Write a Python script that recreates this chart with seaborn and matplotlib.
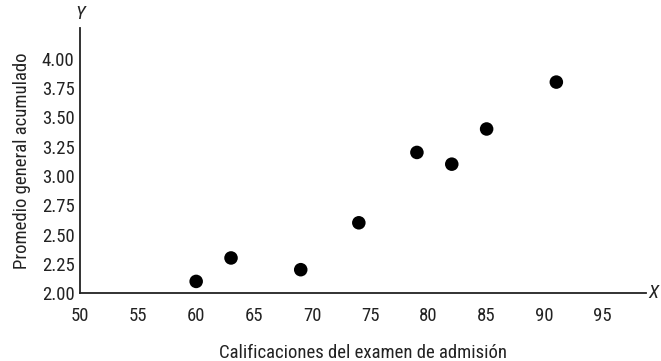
import matplotlib
matplotlib.use("Agg")
import matplotlib.pyplot as plt
import seaborn as sns
import pandas as pd
from matplotlib import font_manager

calificaciones = [60, 63, 69, 74, 79, 82, 85, 91]
promedio = [2.1, 2.3, 2.2, 2.6, 3.2, 3.1, 3.4, 3.8]
x_ticks = [50, 55, 60, 65, 70, 75, 80, 85, 90, 95]
y_ticks = [2.00, 2.25, 2.50, 2.75, 3.00, 3.25, 3.50, 3.75, 4.00]
y_tick_labels = ["2.00", "2.25", "2.50", "2.75", "3.00", "3.25", "3.50", "3.75", "4.00"]

sns.set_theme(style="white")
names = {f.name for f in font_manager.fontManager.ttflist}
fam = None
for cand in ["Roboto Condensed", "Liberation Sans Narrow", "Arial Narrow", "Liberation Sans"]:
    if cand in names:
        fam = cand
        break
if fam is None:
    fam = "DejaVu Sans"
plt.rcParams["font.family"] = [fam, "DejaVu Sans"]

df = pd.DataFrame({"x": calificaciones, "y": promedio})

fig = plt.figure(figsize=(6.61, 3.61), dpi=100)
ax = fig.add_axes([0.121, 0.188, 0.856, 0.734])
sns.scatterplot(data=df, x="x", y="y", ax=ax, color="black", s=95, edgecolor="none")

ax.set_xlim(50, 98.7)
ax.set_ylim(2.0, 4.26)
ax.set_xticks(x_ticks)
ax.set_yticks(y_ticks)
ax.set_yticklabels(y_tick_labels)
for s in ["top", "right"]:
    ax.spines[s].set_visible(False)
for s in ["left", "bottom"]:
    ax.spines[s].set_color("#222222")
    ax.spines[s].set_linewidth(1.3)
ax.tick_params(axis="both", direction="in", length=9, width=1.1, colors="#222222",
               labelsize=13.5, pad=4)
ax.tick_params(axis="x", pad=10)
ax.set_xlabel("Calificaciones del examen de admisión", fontsize=13.5, color="#222222", labelpad=14)
ax.set_ylabel("Promedio general acumulado", fontsize=13.5, color="#222222", labelpad=8)
ax.text(1.004, 0.0, "X", transform=ax.transAxes, fontsize=13.5, style="italic",
        va="center", ha="left", color="#222222")
ax.text(0.0, 1.02, "Y", transform=ax.transAxes, fontsize=13.5, style="italic",
        va="bottom", ha="center", color="#222222")

fig.savefig("out.png", dpi=100)
